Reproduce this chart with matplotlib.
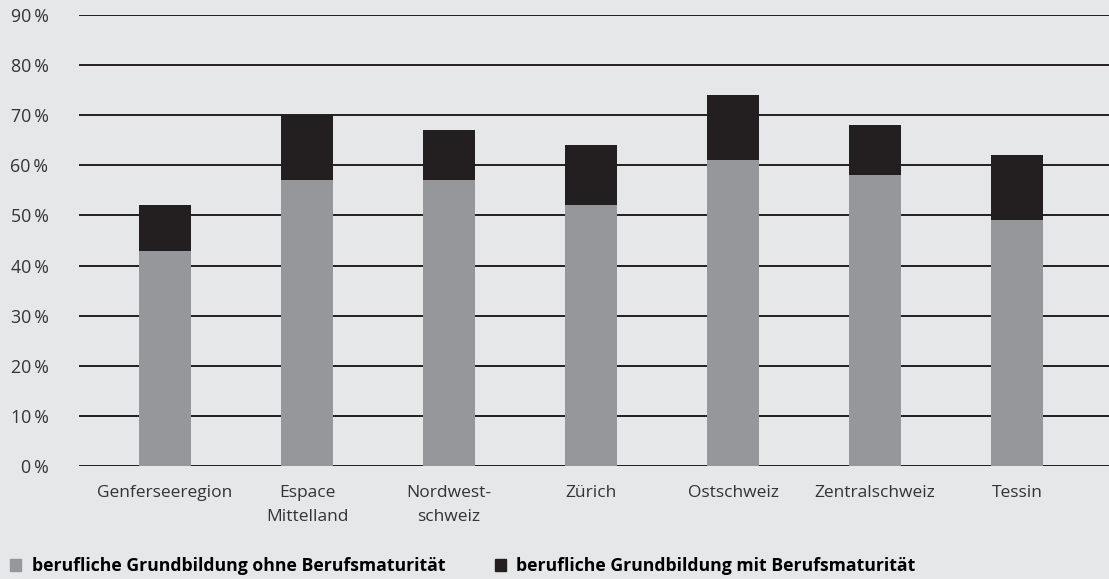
import numpy as np
import matplotlib.pyplot as plt
from matplotlib.patches import Patch
from matplotlib.ticker import FuncFormatter

plt.rcParams['font.family'] = ['Open Sans', 'DejaVu Sans']

regions = ['Genferseeregion', 'Espace\nMittelland', 'Nordwest-\nschweiz', 'Zürich',
           'Ostschweiz', 'Zentralschweiz', 'Tessin']
ohne_bm = [43, 57, 57, 52, 61, 58, 49]
total = [52, 70, 67, 64, 74, 68, 62]
mit_bm = [t - o for t, o in zip(total, ohne_bm)]

label_ohne = 'berufliche Grundbildung ohne Berufsmaturität'
label_mit = 'berufliche Grundbildung mit Berufsmaturität'

bg = '#e6e7e9'
light = '#96979a'
dark = '#231f20'

fig = plt.figure(figsize=(11.09, 5.79), dpi=100, facecolor=bg)
ax = fig.add_axes([79 / 1109, 1 - 466 / 579, 1 - 79 / 1109, (466 - 15) / 579])
ax.set_facecolor(bg)

x = np.arange(len(regions))
w = 0.366
ax.bar(x, ohne_bm, width=w, color=light, zorder=3)
ax.bar(x, mit_bm, width=w, bottom=ohne_bm, color=dark, zorder=3)

ax.set_ylim(0, 90)
ax.set_xlim(-0.606, 6.648)
ax.set_yticks(np.arange(0, 91, 10))
ax.yaxis.set_major_formatter(FuncFormatter(lambda v, p: f'{int(v)}\u2009%'))
ax.grid(axis='y', color=dark, linewidth=1.4, zorder=1)
ax.set_xticks(x)
ax.set_xticklabels(regions, linespacing=1.6)

for s in ax.spines.values():
    s.set_visible(False)
ax.tick_params(axis='y', length=0, pad=22, labelsize=12.8, labelcolor='#333333')
ax.tick_params(axis='x', length=0, pad=14, labelsize=12.5, labelcolor='#333333')
for lbl in ax.get_yticklabels():
    lbl.set_horizontalalignment('right')

handles = [Patch(color=light, label=label_ohne), Patch(color=dark, label=label_mit)]
fig.legend(handles=handles, loc='center left', bbox_to_anchor=(0.009, 0.0225),
           ncol=2, frameon=False, handlelength=0.63, handleheight=0.63,
           handletextpad=0.6, columnspacing=2.8, borderpad=0, borderaxespad=0,
           prop={'weight': 'bold', 'size': 12.7})

fig.savefig('out.png', dpi=100, facecolor=bg)
